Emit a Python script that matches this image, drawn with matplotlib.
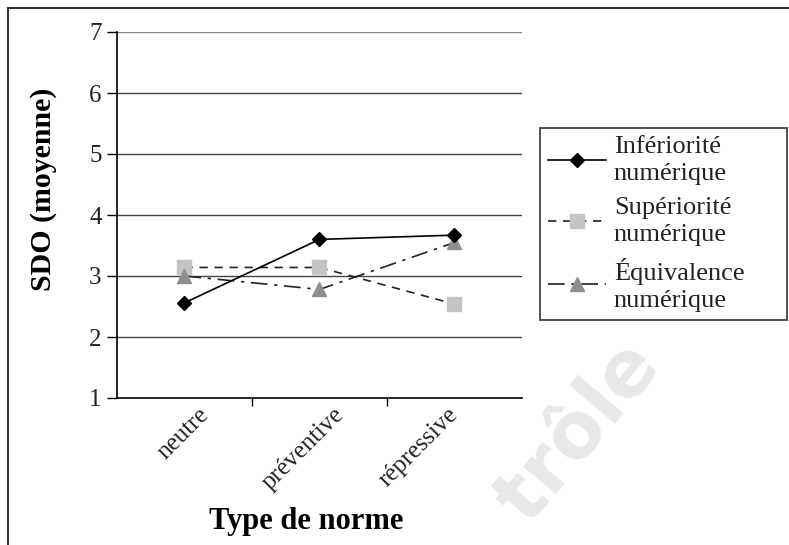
import matplotlib
matplotlib.use('Agg')
import matplotlib.pyplot as plt
from matplotlib.lines import Line2D

plt.rcParams['font.family'] = ['Liberation Serif', 'DejaVu Serif']

categories = ['neutre', 'préventive', 'répressive']
inferiorite = [2.56, 3.60, 3.67]
superiorite = [3.14, 3.14, 2.54]
equivalence = [3.00, 2.78, 3.55]
labels = ['Infériorité\nnumérique', 'Supériorité\nnumérique', 'Équivalence\nnumérique']
yticks = [1, 2, 3, 4, 5, 6, 7]
label_nudge = [0.10, 0.10, -0.06]   # rotated labels are not placed evenly in the original

fig = plt.figure(figsize=(7.89, 5.45), dpi=100)
ax = fig.add_axes([117/789, 1 - 398/545, 405/789, 366/545])

x = list(range(len(categories)))
ax.plot(x, inferiorite, color='black', lw=1.2, ls='-', marker='D', ms=7,
        mfc='black', mec='black', label=labels[0], zorder=4)
ax.plot(x, superiorite, color='#222222', lw=1.2, ls=(0, (5, 4)), marker='s', ms=10,
        mfc='#c4c4c4', mec='#c4c4c4', label=labels[1], zorder=3)
ax.plot(x, equivalence, color='#222222', lw=1.2, ls=(0, (10, 4, 2, 4)), marker='^', ms=10,
        mfc='#8e8e8e', mec='#8e8e8e', label=labels[2], zorder=3)

ax.set_xlim(-0.5, 2.5)
ax.set_ylim(1, 7)
ax.set_yticks(yticks)
for yv in yticks[1:]:
    ax.axhline(yv, color='#444444' if yv < 7 else '#888888', lw=1.0, zorder=1)

# category boundaries get the tick marks, labels on minor ticks
ax.set_xticks([0.5, 1.5], minor=False)
ax.set_xticklabels([])
ax.set_xticks([c + d for c, d in zip(x, label_nudge)], minor=True)
ax.set_xticklabels(categories, minor=True, rotation=45, ha='right', rotation_mode='anchor',
                   fontsize=18, color='#222222')
ax.tick_params(axis='x', which='minor', length=0, pad=4)
ax.tick_params(axis='x', which='major', direction='out', length=6, width=1)
ax.tick_params(axis='y', direction='out', length=7, width=1, labelsize=18,
               labelcolor='#222222', pad=4)

for side in ['top', 'right']:
    ax.spines[side].set_visible(False)
ax.spines['left'].set_linewidth(1.2)
ax.spines['bottom'].set_linewidth(1.2)

ax.set_ylabel('SDO (moyenne)', fontsize=21.5, fontweight='bold')
ax.yaxis.set_label_coords((57 - 117) / 405, (398 - 189) / 366)
fig.text(306/789, 1 - 522/545, 'Type de norme', fontsize=22, fontweight='bold',
         ha='center', va='center')

leg = ax.legend(loc='upper left',
                bbox_to_anchor=(540/789, 1 - 318/545, 247/789, 190/545),
                bbox_transform=fig.transFigure, mode='expand', borderaxespad=0,
                fontsize=19, frameon=True, fancybox=False, edgecolor='black',
                handlelength=2.2, labelspacing=0.45, borderpad=0.3, handletextpad=0.3)
leg.get_frame().set_linewidth(1.2)
for t in leg.get_texts():
    t.set_color('#222222')
    t.set_linespacing(1.3)

# watermark
fig.text(578/789, 1 - 432/545, 'trôle', fontsize=56, fontweight='bold',
         color='#e8e8e8', rotation=50, ha='center', va='center',
         family='DejaVu Sans', zorder=0)

# page frame
fig.add_artist(Line2D([8/789, 8/789], [0, 1 - 8/545], color='#333333', lw=1.5,
                      transform=fig.transFigure))
fig.add_artist(Line2D([8/789, 1], [1 - 8/545, 1 - 8/545], color='#333333', lw=1.5,
                      transform=fig.transFigure))

fig.savefig('out.png', dpi=100)
